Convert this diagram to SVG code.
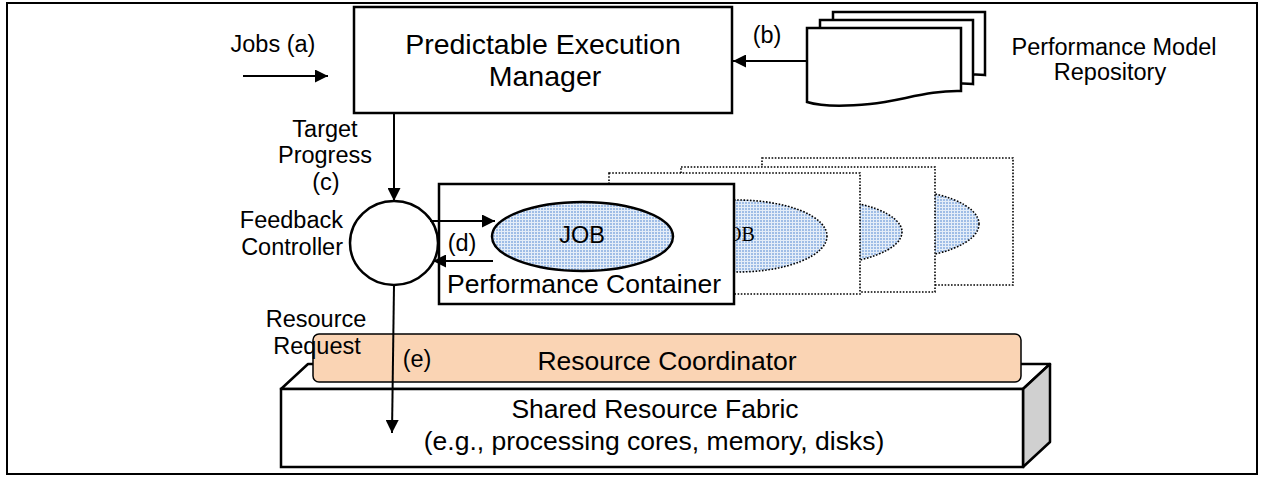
<svg xmlns="http://www.w3.org/2000/svg" width="1266" height="479" viewBox="0 0 1266 479">
<style>
text{font-family:"Liberation Sans",Arial,sans-serif;fill:#000}
.lbl{font-size:23.5px}
.big{font-size:26.5px}
.pem{font-size:28.5px}
.thick{fill:#fff;stroke:#000;stroke-width:2.5}
.dot{fill:#fff;stroke:#000;stroke-width:1.6;stroke-dasharray:1.6 1.6}
.conn{stroke:#000;stroke-width:2;fill:none}
</style>
<defs>
<pattern id="grid" width="3" height="3" patternUnits="userSpaceOnUse">
<rect width="3" height="3" fill="#9fbde6"/>
<path d="M0 0.5H3M0.5 0V3" stroke="#e4edf8" stroke-width="1"/>
</pattern>
<marker id="arr" viewBox="0 0 10 10" refX="10" refY="5" markerWidth="15" markerHeight="13" markerUnits="userSpaceOnUse" orient="auto">
<path d="M0 0L10 5L0 10z" fill="#000"/>
</marker>
</defs>
<rect x="0" y="0" width="1266" height="479" fill="#fff"/>
<rect x="7" y="3" width="1250" height="471" fill="none" stroke="#000" stroke-width="2"/>

<g id="pem">
<rect class="thick" x="354" y="7" width="378" height="106"/>
<text class="pem" x="543" y="54" text-anchor="middle">Predictable Execution</text>
<text class="pem" x="545" y="86" text-anchor="middle">Manager</text>
</g>

<g id="jobs-label"><text class="lbl" x="273" y="52" text-anchor="middle">Jobs (a)</text></g>

<g id="repository">
<path class="thick" stroke-width="2" d="M833 12H985V75C954 72 926 85 896 88S846 90 833 86Z"/>
<path class="thick" stroke-width="2" d="M820 20H973V84C942 81 913 93 883 96S833 98 820 94Z"/>
<path class="thick" stroke-width="2" d="M807 28H961V91C930 90 900 101 870 104S820 106 807 102Z"/>
<text class="lbl" x="1114" y="55" text-anchor="middle">Performance Model</text>
<text class="lbl" x="1110" y="80" text-anchor="middle">Repository</text>
<text class="lbl" x="767" y="43" text-anchor="middle">(b)</text>
</g>

<g id="target-label">
<text class="lbl" x="325" y="137" text-anchor="middle">Target</text>
<text class="lbl" x="325" y="163" text-anchor="middle">Progress</text>
<text class="lbl" x="326" y="190" text-anchor="middle">(c)</text>
</g>

<g id="feedback-controller">
<ellipse class="thick" cx="394" cy="243" rx="44" ry="42"/>
<text class="lbl" x="343" y="228" text-anchor="end">Feedback</text>
<text class="lbl" x="343" y="255" text-anchor="end">Controller</text>
</g>

<g id="container4">
<rect class="dot" x="762" y="158" width="251" height="127"/>
<ellipse cx="889" cy="224" rx="90" ry="35" fill="url(#grid)" stroke="#000" stroke-width="1.6" stroke-dasharray="1.6 1.6"/>
</g>
<g id="container3">
<rect class="dot" x="681" y="167" width="254" height="125"/>
<ellipse cx="812" cy="232" rx="90" ry="33" fill="url(#grid)" stroke="#000" stroke-width="1.6" stroke-dasharray="1.6 1.6"/>
</g>
<g id="container2">
<rect class="dot" x="609" y="173" width="251" height="121"/>
<ellipse cx="737" cy="236" rx="90" ry="36" fill="url(#grid)" stroke="#000" stroke-width="1.6" stroke-dasharray="1.6 1.6"/>
<text x="737" y="241" text-anchor="middle" style="font-family:'Liberation Serif','Times New Roman',serif;font-size:20px">JOB</text>
</g>

<g id="performance-container">
<rect class="thick" x="439" y="184" width="295" height="120"/>
<ellipse cx="582.5" cy="236.5" rx="90.5" ry="34.5" fill="url(#grid)" stroke="#000" stroke-width="2.5"/>
<text class="lbl" x="582" y="243" text-anchor="middle">JOB</text>
<text class="big" x="584" y="293" text-anchor="middle">Performance Container</text>
<text class="lbl" x="462" y="251" text-anchor="middle">(d)</text>
</g>

<g id="shared-resource-fabric">
<path d="M281 389L308 364H1050L1023 389Z" fill="#fff" stroke="#000" stroke-width="2.5" stroke-linejoin="round"/>
<path d="M1023 389L1050 364V442L1023 467Z" fill="#d0d0d0" stroke="#000" stroke-width="2.5" stroke-linejoin="round"/>
<rect class="thick" x="281" y="389" width="742" height="78"/>
<text class="big" x="655" y="418" text-anchor="middle">Shared Resource Fabric</text>
<text class="big" x="654" y="450" text-anchor="middle">(e.g., processing cores, memory, disks)</text>
</g>

<g id="resource-coordinator">
<rect x="313" y="334" width="708" height="48" rx="6" fill="#fad4b4" stroke="#000" stroke-width="1.5"/>
<text class="big" x="667" y="370" text-anchor="middle">Resource Coordinator</text>
</g>

<g id="resource-request-label">
<text class="lbl" x="316" y="327" text-anchor="middle">Resource</text>
<text class="lbl" x="317" y="354" text-anchor="middle">Request</text>
<text class="lbl" x="417" y="367" text-anchor="middle">(e)</text>
</g>

<g id="connectors">
<line class="conn" x1="243" y1="76" x2="328" y2="76" marker-end="url(#arr)"/>
<line class="conn" x1="806" y1="61" x2="733" y2="61" marker-end="url(#arr)"/>
<line class="conn" x1="394" y1="113" x2="394" y2="201" marker-end="url(#arr)"/>
<line class="conn" x1="430" y1="221" x2="495" y2="221" marker-end="url(#arr)"/>
<line class="conn" x1="493" y1="261" x2="433" y2="261" marker-end="url(#arr)"/>
<line class="conn" x1="394" y1="285" x2="392" y2="433" marker-end="url(#arr)"/>
</g>
</svg>
